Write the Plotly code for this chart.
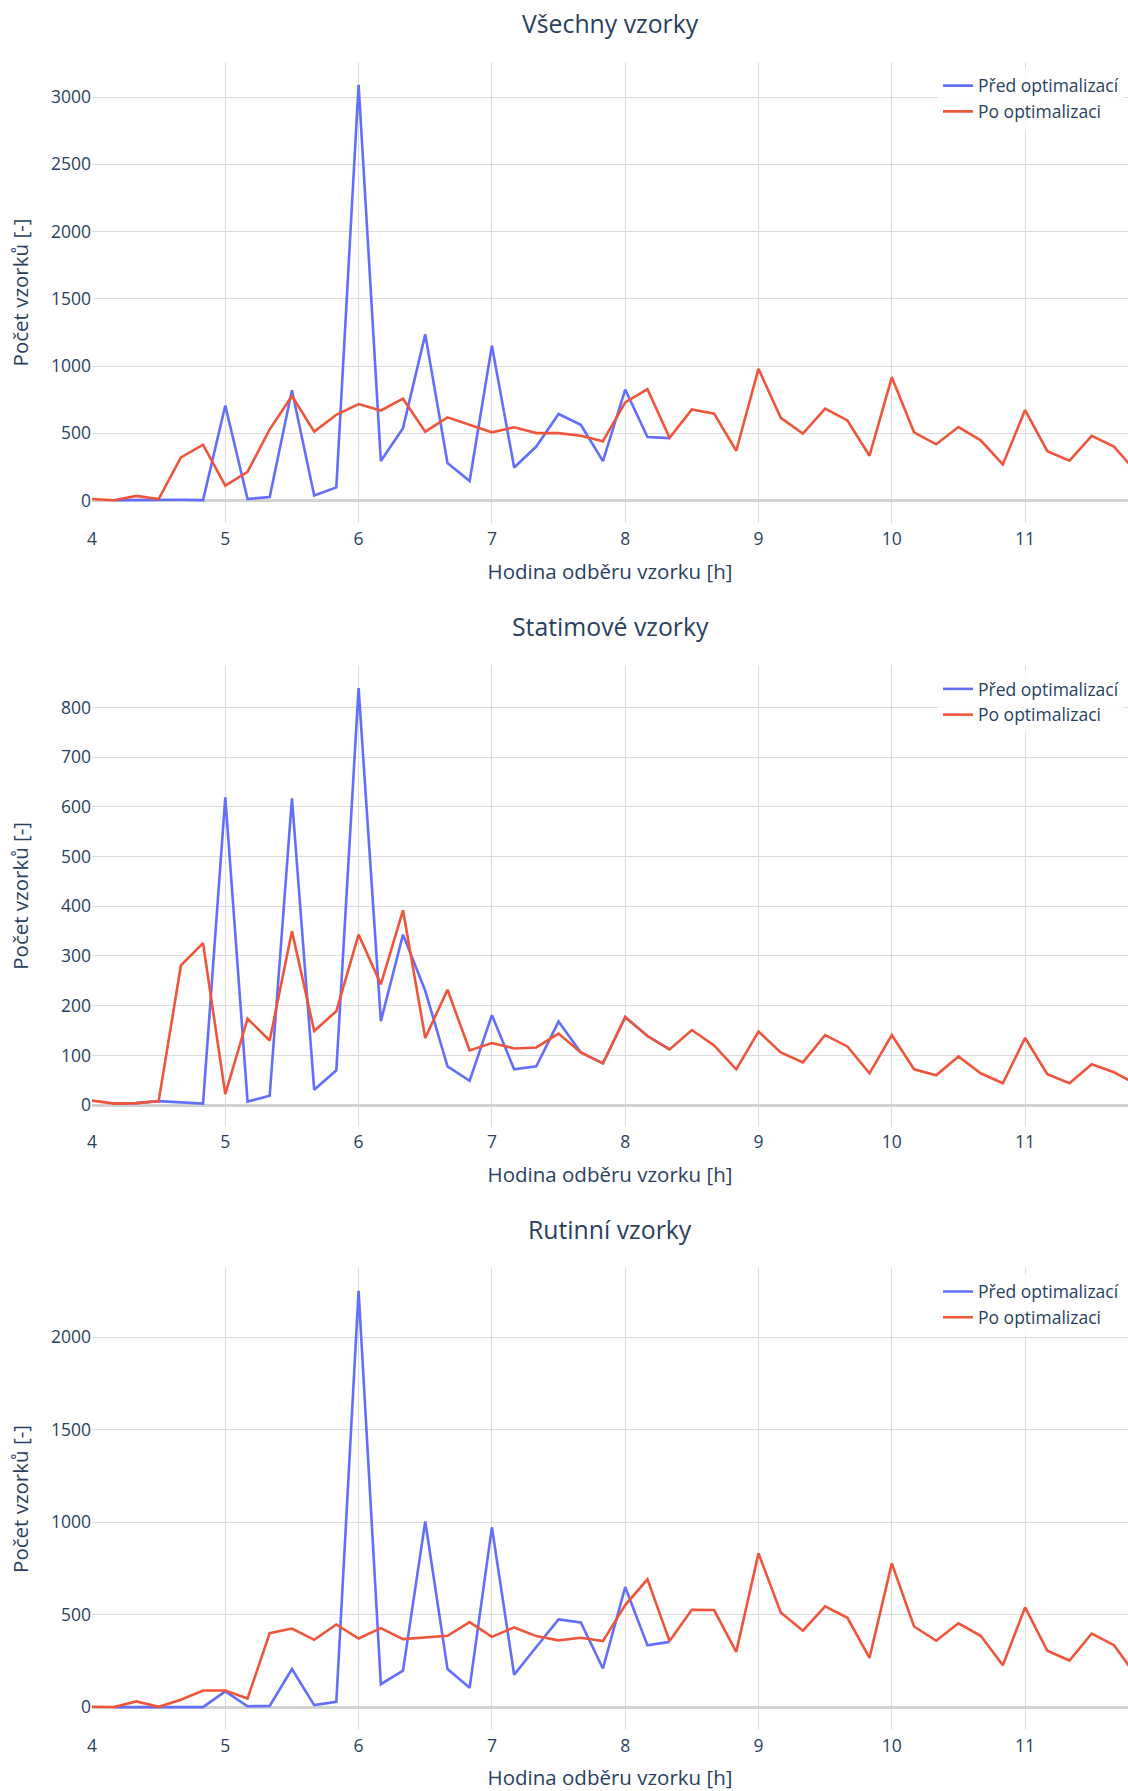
import plotly.graph_objects as go

# Hodina odběru (h) – 10minutové intervaly
hours = [4.000, 4.167, 4.333, 4.500, 4.667, 4.833,
         5.000, 5.167, 5.333, 5.500, 5.667, 5.833,
         6.000, 6.167, 6.333, 6.500, 6.667, 6.833,
         7.000, 7.167, 7.333, 7.500, 7.667, 7.833,
         8.000, 8.167, 8.333, 8.500, 8.667, 8.833,
         9.000, 9.167, 9.333, 9.500, 9.667, 9.833,
         10.000, 10.167, 10.333, 10.500, 10.667, 10.833,
         11.000, 11.167, 11.333, 11.500, 11.667, 11.833]

# "Před optimalizací" – data od 4:10 do 8:20
hours_before = hours[1:27]

before_all = [3, 4, 8, 5, 3,
              706, 11, 26, 820, 37, 97,
              3091, 293, 538, 1235, 279, 145,
              1150, 245, 401, 643, 563, 293,
              825, 472, 464]
before_stat = [3, 4, 8, 5, 3,
               619, 7, 19, 617, 31, 70,
               839, 169, 343, 230, 78, 49,
               181, 72, 78, 168, 106, 84,
               177, 139, 112]
before_rout = [0, 0, 0, 0, 0,
               85, 5, 7, 206, 11, 29,
               2250, 124, 197, 1004, 206, 105,
               972, 175, 325, 474, 458, 209,
               649, 334, 353]

# "Po optimalizaci"
after_all = [11, 2, 34, 11, 321, 415,
             111, 213, 529, 777, 512, 637,
             717, 669, 757, 512, 618, 561,
             507, 544, 501, 501, 481, 441,
             729, 828, 467, 677, 646, 370,
             979, 615, 498, 683, 595, 333,
             916, 507, 418, 546, 447, 268,
             672, 367, 296, 481, 401, 212]
after_stat = [9, 3, 4, 8, 281, 326,
              22, 174, 130, 350, 149, 189,
              343, 243, 392, 135, 232, 110,
              125, 114, 116, 144, 106, 84,
              177, 139, 112, 151, 120, 72,
              148, 106, 86, 141, 118, 64,
              141, 72, 60, 98, 64, 44,
              135, 62, 44, 82, 66, 42]
after_rout = [2, 1, 31, 2, 40, 90,
              90, 47, 400, 425, 364, 447,
              371, 427, 368, 377, 386, 460,
              380, 431, 384, 361, 375, 357,
              552, 691, 357, 526, 525, 299,
              831, 512, 413, 545, 483, 267,
              777, 436, 359, 453, 386, 227,
              539, 305, 252, 398, 335, 170]

titles = ["Všechny vzorky", "Statimové vzorky", "Rutinní vzorky"]
x_title = "Hodina odběru vzorku [h]"
y_title = "Počet vzorků [-]"
name_before = "Před optimalizací"
name_after = "Po optimalizaci"
x_ticks = [4, 5, 6, 7, 8, 9, 10, 11]
y_dticks = [500, 100, 500]
y_title_standoff = [16, 26, 16]

BLUE = "#636EFA"
RED = "#EF553B"
TXT = "#2a3f5f"
GRID = "#DCDCDC"

W, H = 1128, 1791
# pixel extents of the plot areas (top, bottom)
panels_px = [(61.7, 523.3), (665.0, 1126.7), (1267.7, 1730.3)]
domains = [[1 - b / H, 1 - t / H] for (t, b) in panels_px]

fig = go.Figure()
series = [(before_all, after_all), (before_stat, after_stat), (before_rout, after_rout)]
for i, (b, a) in enumerate(series):
    k = "" if i == 0 else str(i + 1)
    leg = "legend" + k
    fig.add_trace(go.Scatter(x=hours_before, y=b, mode="lines", name=name_before,
                             line=dict(color=BLUE, width=2.6),
                             xaxis="x" + k, yaxis="y" + k, legend=leg))
    fig.add_trace(go.Scatter(x=hours, y=a, mode="lines", name=name_after,
                             line=dict(color=RED, width=2.6),
                             xaxis="x" + k, yaxis="y" + k, legend=leg))

layout = dict(
    template="plotly_white",
    width=W, height=H, autosize=False,
    margin=dict(l=92, r=0, t=0, b=0),
    font=dict(family="Open Sans, Arial, sans-serif", color=TXT, size=17.5),
    paper_bgcolor="white", plot_bgcolor="white",
    showlegend=True,
)

annotations = []
for i in range(3):
    k = "" if i == 0 else str(i + 1)
    layout["xaxis" + k] = dict(
        domain=[0, 1], anchor="y" + k, range=[4, 11.772],
        tickvals=x_ticks, showgrid=True, gridcolor=GRID, gridwidth=1.3,
        zeroline=False, tickfont=dict(size=17.5, color=TXT),
        ticklabelstandoff=3,
        title=dict(text=x_title, font=dict(size=20.5, color=TXT)),
        ticks="", showline=False,
    )
    layout["yaxis" + k] = dict(
        domain=domains[i], anchor="x" + k, dtick=y_dticks[i],
        showgrid=True, gridcolor=GRID, gridwidth=1.3,
        zeroline=True, zerolinecolor="#D2D2D2", zerolinewidth=2.5,
        tickfont=dict(size=17.5, color=TXT),
        title=dict(text=y_title, font=dict(size=20.5, color=TXT),
                   standoff=y_title_standoff[i]),
        ticks="", showline=False,
    )
    layout["legend" + k] = dict(
        x=1 - 4 / 1036, xanchor="right", y=domains[i][1] - 6 / H, yanchor="top",
        xref="paper", yref="paper",
        bgcolor="rgba(255,255,255,0.85)", font=dict(size=17.5, color=TXT),
    )
    annotations.append(dict(
        text=titles[i], xref="paper", yref="paper", x=0.5, y=domains[i][1],
        xanchor="center", yanchor="middle", yshift=39, showarrow=False,
        font=dict(size=24.8, color=TXT),
    ))

layout["annotations"] = annotations
fig.update_layout(**layout)

fig.write_html("out.html")
